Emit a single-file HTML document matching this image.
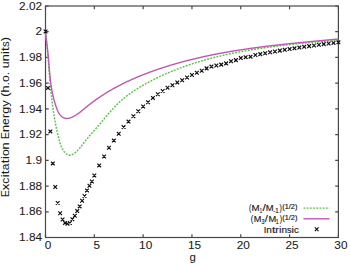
<!DOCTYPE html>
<html><head><meta charset="utf-8"><style>
html,body{margin:0;padding:0;background:#fff;overflow:hidden}
svg{display:block}
</style></head><body>
<svg width="350" height="265" viewBox="0 0 350 265">
<rect width="350" height="265" fill="#fff"/>
<g fill="none" stroke="#484848" stroke-width="1.2">
<rect x="45.5" y="6.0" width="292.90" height="231.50"/>
<path d="M45.50,237.5v-3.2M45.50,6.0v3.2M94.32,237.5v-3.2M94.32,6.0v3.2M143.13,237.5v-3.2M143.13,6.0v3.2M191.95,237.5v-3.2M191.95,6.0v3.2M240.77,237.5v-3.2M240.77,6.0v3.2M289.58,237.5v-3.2M289.58,6.0v3.2M338.40,237.5v-3.2M338.40,6.0v3.2M45.5,6.00h3.2M338.4,6.00h-3.2M45.5,31.72h3.2M338.4,31.72h-3.2M45.5,57.44h3.2M338.4,57.44h-3.2M45.5,83.17h3.2M338.4,83.17h-3.2M45.5,108.89h3.2M338.4,108.89h-3.2M45.5,134.61h3.2M338.4,134.61h-3.2M45.5,160.33h3.2M338.4,160.33h-3.2M45.5,186.06h3.2M338.4,186.06h-3.2M45.5,211.78h3.2M338.4,211.78h-3.2M45.5,237.50h3.2M338.4,237.50h-3.2"/>
</g>
<path d="M45.50,31.50 L45.57,32.11 L45.64,32.73 L45.71,33.34 L45.77,33.95 L45.84,34.57 L45.91,35.18 L45.97,35.79 L46.04,36.41 L46.10,37.02 L46.16,37.64 L46.23,38.25 L46.29,38.87 L46.35,39.48 L46.41,40.10 L46.47,40.72 L46.53,41.33 L46.59,41.95 L46.65,42.57 L46.71,43.18 L46.77,43.80 L46.83,44.42 L46.89,45.03 L46.95,45.65 L47.00,46.27 L47.06,46.89 L47.12,47.51 L47.17,48.12 L47.23,48.74 L47.28,49.36 L47.34,49.98 L47.39,50.60 L47.45,51.22 L47.50,51.84 L47.55,52.46 L47.61,53.07 L47.66,53.69 L47.71,54.31 L47.77,54.93 L47.82,55.55 L47.87,56.17 L47.92,56.79 L47.98,57.41 L48.03,58.03 L48.08,58.65 L48.13,59.27 L48.18,59.89 L48.23,60.51 L48.29,61.13 L48.34,61.75 L48.39,62.37 L48.44,63.00 L48.49,63.62 L48.54,64.24 L48.59,64.86 L48.64,65.48 L48.70,66.10 L48.75,66.72 L48.80,67.34 L48.85,67.96 L48.90,68.58 L48.95,69.20 L49.00,69.82 L49.06,70.45 L49.11,71.07 L49.16,71.69 L49.21,72.31 L49.27,72.93 L49.32,73.55 L49.37,74.17 L49.42,74.79 L49.48,75.41 L49.53,76.03 L49.59,76.65 L49.64,77.27 L49.69,77.89 L49.75,78.51 L49.80,79.13 L49.86,79.75 L49.91,80.37 L49.97,81.00 L50.03,81.62 L50.08,82.24 L50.14,82.85 L50.20,83.47 L50.26,84.09 L50.31,84.71 L50.37,85.33 L50.43,85.95 L50.49,86.57 L50.55,87.19 L50.61,87.81 L50.67,88.43 L50.73,89.05 L50.80,89.67 L50.86,90.28 L50.92,90.90 L50.99,91.52 L51.05,92.14 L51.12,92.76 L51.18,93.37 L51.25,93.99 L51.32,94.61 L51.38,95.23 L51.45,95.84 L51.52,96.46 L51.59,97.08 L51.66,97.69 L51.73,98.31 L51.80,98.93 L51.87,99.54 L51.95,100.16 L52.02,100.77 L52.10,101.39 L52.17,102.00 L52.25,102.62 L52.33,103.23 L52.40,103.85 L52.48,104.46 L52.56,105.07 L52.64,105.69 L52.72,106.30 L52.81,106.91 L52.89,107.53 L52.97,108.14 L53.06,108.75 L53.15,109.36 L53.23,109.97 L53.32,110.58 L53.41,111.20 L53.50,111.81 L53.59,112.42 L53.68,113.03 L53.78,113.64 L53.87,114.25 L53.97,114.86 L54.06,115.46 L54.16,116.07 L54.26,116.68 L54.36,117.29 L54.46,117.90 L54.56,118.50 L54.66,119.11 L54.77,119.72 L54.87,120.32 L54.98,120.93 L55.09,121.53 L55.20,122.14 L55.31,122.74 L55.42,123.35 L55.54,123.95 L55.65,124.56 L55.77,125.16 L55.89,125.77 L56.01,126.37 L56.13,126.98 L56.25,127.58 L56.37,128.19 L56.50,128.79 L56.63,129.39 L56.76,130.00 L56.89,130.60 L57.02,131.21 L57.16,131.81 L57.29,132.42 L57.43,133.02 L57.57,133.63 L57.72,134.23 L57.86,134.84 L58.01,135.44 L58.16,136.05 L58.31,136.65 L58.46,137.26 L58.62,137.86 L58.77,138.47 L58.93,139.08 L59.09,139.68 L59.26,140.29 L59.42,140.90 L59.59,141.51 L59.76,142.11 L59.94,142.72 L60.12,143.32 L60.31,143.93 L60.51,144.52 L60.71,145.12 L60.93,145.71 L61.15,146.29 L61.39,146.87 L61.64,147.44 L61.90,148.00 L62.18,148.56 L62.47,149.11 L62.78,149.64 L63.11,150.17 L63.45,150.68 L63.81,151.19 L64.20,151.68 L64.60,152.16 L65.03,152.62 L65.48,153.07 L65.95,153.50 L66.44,153.89 L66.95,154.25 L67.47,154.56 L68.01,154.82 L68.56,155.02 L69.11,155.16 L69.68,155.21 L70.25,155.19 L70.82,155.07 L71.40,154.89 L71.97,154.64 L72.53,154.35 L73.08,154.02 L73.62,153.68 L74.15,153.32 L74.66,152.95 L75.16,152.57 L75.65,152.17 L76.13,151.77 L76.59,151.35 L77.05,150.93 L77.50,150.49 L77.94,150.05 L78.37,149.59 L78.79,149.13 L79.20,148.67 L79.61,148.19 L80.02,147.71 L80.41,147.23 L80.81,146.74 L81.20,146.25 L81.58,145.76 L81.97,145.26 L82.35,144.76 L82.73,144.26 L83.11,143.77 L83.49,143.27 L83.87,142.77 L84.25,142.27 L84.63,141.78 L85.01,141.29 L85.40,140.80 L85.79,140.31 L86.18,139.83 L86.57,139.35 L86.96,138.87 L87.35,138.39 L87.75,137.92 L88.15,137.44 L88.54,136.97 L88.94,136.50 L89.34,136.03 L89.74,135.56 L90.15,135.10 L90.55,134.63 L90.95,134.17 L91.36,133.70 L91.76,133.24 L92.17,132.78 L92.57,132.31 L92.98,131.85 L93.38,131.39 L93.79,130.93 L94.19,130.47 L94.60,130.01 L95.01,129.54 L95.41,129.08 L95.82,128.62 L96.22,128.16 L96.63,127.69 L97.03,127.23 L97.44,126.76 L97.84,126.30 L98.24,125.83 L98.64,125.36 L99.04,124.89 L99.45,124.42 L99.85,123.95 L100.25,123.48 L100.64,123.00 L101.04,122.53 L101.44,122.05 L101.84,121.58 L102.24,121.11 L102.64,120.63 L103.04,120.16 L103.44,119.68 L103.84,119.21 L104.24,118.73 L104.64,118.26 L105.04,117.78 L105.44,117.31 L105.84,116.83 L106.24,116.36 L106.64,115.88 L107.04,115.41 L107.45,114.94 L107.85,114.47 L108.26,114.00 L108.66,113.53 L109.07,113.06 L109.48,112.59 L109.89,112.12 L110.30,111.66 L110.71,111.19 L111.12,110.73 L111.54,110.27 L111.96,109.81 L112.37,109.35 L112.79,108.89 L113.21,108.44 L113.64,107.99 L114.06,107.53 L114.49,107.08 L114.92,106.64 L115.35,106.19 L115.78,105.75 L116.21,105.31 L116.65,104.87 L117.09,104.43 L117.53,104.00 L117.97,103.57 L118.42,103.14 L118.87,102.71 L119.32,102.29 L119.77,101.87 L120.23,101.45 L120.69,101.04 L121.15,100.63 L121.61,100.22 L122.08,99.81 L122.55,99.41 L123.02,99.01 L123.49,98.61 L123.97,98.22 L124.45,97.82 L124.93,97.43 L125.41,97.05 L125.90,96.66 L126.38,96.28 L126.87,95.90 L127.36,95.53 L127.86,95.15 L128.36,94.78 L128.85,94.41 L129.35,94.05 L129.86,93.68 L130.36,93.32 L130.87,92.96 L131.37,92.60 L131.88,92.25 L132.39,91.90 L132.91,91.55 L133.42,91.20 L133.94,90.85 L134.46,90.51 L134.98,90.17 L135.50,89.83 L136.02,89.49 L136.54,89.16 L137.07,88.83 L137.60,88.50 L138.13,88.17 L138.66,87.84 L139.19,87.52 L139.72,87.19 L140.25,86.87 L140.79,86.56 L141.32,86.24 L141.86,85.92 L142.40,85.61 L142.94,85.30 L143.48,84.99 L144.02,84.68 L144.56,84.38 L145.11,84.07 L145.65,83.77 L146.19,83.47 L146.74,83.17 L147.29,82.87 L147.83,82.58 L148.38,82.28 L148.93,81.99 L149.48,81.70 L150.03,81.41 L150.58,81.12 L151.13,80.83 L151.68,80.55 L152.24,80.26 L152.79,79.98 L153.34,79.70 L153.90,79.42 L154.45,79.14 L155.01,78.86 L155.56,78.59 L156.12,78.32 L156.68,78.04 L157.23,77.77 L157.79,77.50 L158.35,77.24 L158.91,76.97 L159.47,76.70 L160.03,76.44 L160.59,76.18 L161.15,75.92 L161.72,75.66 L162.28,75.40 L162.84,75.14 L163.41,74.89 L163.97,74.63 L164.54,74.38 L165.10,74.13 L165.67,73.88 L166.23,73.63 L166.80,73.38 L167.37,73.14 L167.94,72.89 L168.51,72.65 L169.08,72.41 L169.65,72.17 L170.22,71.93 L170.79,71.69 L171.36,71.46 L171.93,71.22 L172.50,70.99 L173.08,70.76 L173.65,70.53 L174.22,70.30 L174.80,70.07 L175.37,69.84 L175.95,69.61 L176.52,69.39 L177.10,69.17 L177.68,68.94 L178.26,68.72 L178.83,68.50 L179.41,68.29 L179.99,68.07 L180.57,67.85 L181.15,67.64 L181.73,67.43 L182.31,67.21 L182.89,67.00 L183.47,66.79 L184.06,66.58 L184.64,66.38 L185.22,66.17 L185.81,65.97 L186.39,65.76 L186.97,65.56 L187.56,65.36 L188.14,65.16 L188.73,64.96 L189.32,64.76 L189.90,64.57 L190.49,64.37 L191.08,64.18 L191.66,63.98 L192.25,63.79 L192.84,63.60 L193.43,63.41 L194.02,63.22 L194.61,63.04 L195.20,62.85 L195.79,62.67 L196.38,62.48 L196.97,62.30 L197.56,62.12 L198.16,61.94 L198.75,61.76 L199.34,61.58 L199.94,61.40 L200.53,61.23 L201.12,61.05 L201.72,60.88 L202.31,60.70 L202.91,60.53 L203.50,60.36 L204.10,60.19 L204.70,60.02 L205.29,59.86 L205.89,59.69 L206.49,59.52 L207.08,59.36 L207.68,59.20 L208.28,59.03 L208.88,58.87 L209.48,58.71 L210.08,58.55 L210.68,58.39 L211.28,58.24 L211.88,58.08 L212.48,57.92 L213.08,57.77 L213.68,57.62 L214.28,57.46 L214.88,57.31 L215.49,57.16 L216.09,57.01 L216.69,56.86 L217.30,56.72 L217.90,56.57 L218.50,56.42 L219.11,56.28 L219.71,56.13 L220.32,55.99 L220.92,55.85 L221.53,55.71 L222.13,55.57 L222.74,55.43 L223.34,55.29 L223.95,55.15 L224.56,55.02 L225.16,54.88 L225.77,54.74 L226.38,54.61 L226.99,54.48 L227.59,54.35 L228.20,54.21 L228.81,54.08 L229.42,53.95 L230.03,53.82 L230.64,53.70 L231.25,53.57 L231.86,53.44 L232.47,53.32 L233.08,53.19 L233.69,53.07 L234.30,52.95 L234.91,52.82 L235.52,52.70 L236.13,52.58 L236.74,52.46 L237.35,52.34 L237.96,52.23 L238.58,52.11 L239.19,51.99 L239.80,51.88 L240.41,51.76 L241.02,51.65 L241.64,51.53 L242.25,51.42 L242.86,51.31 L243.48,51.20 L244.09,51.09 L244.71,50.98 L245.32,50.87 L245.93,50.76 L246.55,50.65 L247.16,50.54 L247.78,50.44 L248.39,50.33 L249.01,50.23 L249.62,50.12 L250.24,50.02 L250.85,49.92 L251.47,49.82 L252.08,49.71 L252.70,49.61 L253.32,49.51 L253.93,49.41 L254.55,49.32 L255.16,49.22 L255.78,49.12 L256.40,49.02 L257.01,48.93 L257.63,48.83 L258.25,48.74 L258.87,48.64 L259.48,48.55 L260.10,48.46 L260.72,48.36 L261.34,48.27 L261.95,48.18 L262.57,48.09 L263.19,48.00 L263.81,47.91 L264.42,47.82 L265.04,47.73 L265.66,47.65 L266.28,47.56 L266.90,47.47 L267.52,47.39 L268.13,47.30 L268.75,47.22 L269.37,47.13 L269.99,47.05 L270.61,46.97 L271.23,46.88 L271.85,46.80 L272.46,46.72 L273.08,46.64 L273.70,46.56 L274.32,46.48 L274.94,46.40 L275.56,46.32 L276.18,46.24 L276.80,46.16 L277.42,46.08 L278.04,46.01 L278.66,45.93 L279.27,45.85 L279.89,45.78 L280.51,45.70 L281.13,45.63 L281.75,45.55 L282.37,45.48 L282.99,45.41 L283.61,45.33 L284.23,45.26 L284.85,45.19 L285.47,45.12 L286.09,45.05 L286.71,44.97 L287.33,44.90 L287.94,44.83 L288.56,44.76 L289.18,44.70 L289.80,44.63 L290.42,44.56 L291.04,44.49 L291.66,44.42 L292.28,44.35 L292.90,44.29 L293.52,44.22 L294.14,44.15 L294.75,44.09 L295.37,44.02 L295.99,43.96 L296.61,43.89 L297.23,43.83 L297.85,43.76 L298.47,43.70 L299.08,43.64 L299.70,43.57 L300.32,43.51 L300.94,43.45 L301.56,43.38 L302.18,43.32 L302.79,43.26 L303.41,43.20 L304.03,43.14 L304.65,43.08 L305.26,43.01 L305.88,42.95 L306.50,42.89 L307.12,42.83 L307.73,42.77 L308.35,42.71 L308.97,42.66 L309.59,42.60 L310.20,42.54 L310.82,42.48 L311.43,42.42 L312.05,42.36 L312.67,42.30 L313.28,42.25 L313.90,42.19 L314.52,42.13 L315.13,42.07 L315.75,42.02 L316.36,41.96 L316.98,41.90 L317.59,41.85 L318.21,41.79 L318.82,41.74 L319.44,41.68 L320.05,41.62 L320.67,41.57 L321.28,41.51 L321.89,41.46 L322.51,41.40 L323.12,41.35 L323.73,41.29 L324.35,41.24 L324.96,41.18 L325.57,41.13 L326.19,41.07 L326.80,41.02 L327.41,40.96 L328.02,40.91 L328.64,40.86 L329.25,40.80 L329.86,40.75 L330.47,40.69 L331.08,40.64 L331.69,40.59 L332.30,40.53 L332.91,40.48 L333.52,40.43 L334.13,40.37 L334.74,40.32 L335.35,40.26 L335.96,40.21 L336.57,40.16 L337.18,40.10 L337.79,40.05 L338.40,40.00" fill="none" stroke="#5cc04c" stroke-width="1.45" stroke-dasharray="1.9 1.3"/>
<path d="M45.50,31.50 L45.53,32.01 L45.57,32.53 L45.61,33.05 L45.66,33.57 L45.70,34.10 L45.75,34.63 L45.80,35.16 L45.86,35.69 L45.91,36.23 L45.97,36.77 L46.03,37.31 L46.09,37.86 L46.15,38.40 L46.22,38.95 L46.28,39.50 L46.35,40.05 L46.42,40.61 L46.49,41.16 L46.56,41.71 L46.63,42.27 L46.70,42.83 L46.77,43.39 L46.84,43.95 L46.91,44.51 L46.99,45.06 L47.06,45.62 L47.13,46.18 L47.20,46.74 L47.27,47.30 L47.34,47.86 L47.41,48.42 L47.48,48.98 L47.54,49.54 L47.61,50.09 L47.67,50.65 L47.73,51.20 L47.79,51.76 L47.85,52.31 L47.91,52.86 L47.97,53.41 L48.03,53.96 L48.08,54.51 L48.13,55.06 L48.19,55.60 L48.24,56.15 L48.29,56.70 L48.34,57.24 L48.39,57.78 L48.44,58.33 L48.49,58.87 L48.53,59.41 L48.58,59.95 L48.62,60.49 L48.67,61.03 L48.72,61.56 L48.76,62.10 L48.80,62.64 L48.85,63.17 L48.89,63.71 L48.93,64.24 L48.98,64.78 L49.02,65.31 L49.06,65.84 L49.11,66.38 L49.15,66.91 L49.19,67.44 L49.24,67.97 L49.28,68.50 L49.32,69.03 L49.37,69.56 L49.41,70.09 L49.46,70.62 L49.50,71.15 L49.55,71.68 L49.59,72.21 L49.64,72.73 L49.69,73.26 L49.74,73.79 L49.78,74.31 L49.83,74.84 L49.88,75.37 L49.94,75.89 L49.99,76.42 L50.04,76.94 L50.10,77.47 L50.15,78.00 L50.21,78.52 L50.26,79.05 L50.32,79.57 L50.38,80.10 L50.45,80.62 L50.51,81.15 L50.57,81.67 L50.64,82.20 L50.71,82.72 L50.77,83.25 L50.84,83.77 L50.92,84.30 L50.99,84.82 L51.07,85.35 L51.14,85.88 L51.22,86.40 L51.31,86.93 L51.39,87.45 L51.47,87.98 L51.56,88.51 L51.65,89.04 L51.74,89.56 L51.84,90.09 L51.93,90.62 L52.03,91.15 L52.13,91.68 L52.24,92.20 L52.34,92.73 L52.45,93.26 L52.56,93.79 L52.68,94.33 L52.79,94.86 L52.91,95.39 L53.03,95.92 L53.16,96.45 L53.28,96.99 L53.41,97.52 L53.55,98.06 L53.68,98.59 L53.82,99.13 L53.97,99.66 L54.11,100.20 L54.26,100.74 L54.41,101.28 L54.57,101.81 L54.73,102.35 L54.89,102.90 L55.06,103.44 L55.23,103.98 L55.40,104.52 L55.58,105.07 L55.76,105.61 L55.94,106.16 L56.13,106.70 L56.32,107.25 L56.52,107.80 L56.72,108.34 L56.92,108.89 L57.14,109.43 L57.35,109.97 L57.58,110.51 L57.82,111.04 L58.06,111.56 L58.31,112.07 L58.58,112.57 L58.86,113.06 L59.15,113.54 L59.45,114.00 L59.77,114.45 L60.10,114.88 L60.44,115.29 L60.81,115.69 L61.19,116.06 L61.59,116.42 L62.00,116.75 L62.43,117.05 L62.88,117.33 L63.34,117.59 L63.82,117.81 L64.30,118.00 L64.79,118.16 L65.29,118.29 L65.80,118.38 L66.31,118.44 L66.83,118.46 L67.35,118.45 L67.87,118.41 L68.40,118.34 L68.92,118.24 L69.45,118.11 L69.98,117.96 L70.50,117.80 L71.03,117.61 L71.55,117.40 L72.07,117.18 L72.58,116.94 L73.09,116.69 L73.59,116.43 L74.09,116.16 L74.58,115.88 L75.07,115.60 L75.55,115.31 L76.02,115.02 L76.49,114.72 L76.95,114.41 L77.40,114.10 L77.86,113.79 L78.30,113.47 L78.74,113.15 L79.18,112.82 L79.62,112.50 L80.05,112.16 L80.48,111.83 L80.90,111.49 L81.33,111.15 L81.75,110.81 L82.17,110.47 L82.59,110.12 L83.01,109.78 L83.42,109.43 L83.84,109.09 L84.26,108.74 L84.67,108.40 L85.09,108.05 L85.51,107.70 L85.93,107.36 L86.35,107.02 L86.77,106.68 L87.19,106.34 L87.62,106.00 L88.04,105.66 L88.47,105.32 L88.89,104.98 L89.32,104.65 L89.75,104.31 L90.18,103.98 L90.61,103.65 L91.05,103.32 L91.48,102.99 L91.91,102.66 L92.35,102.33 L92.79,102.01 L93.22,101.68 L93.66,101.36 L94.10,101.04 L94.54,100.72 L94.99,100.40 L95.43,100.08 L95.87,99.76 L96.32,99.44 L96.76,99.13 L97.21,98.82 L97.66,98.50 L98.10,98.19 L98.55,97.88 L99.00,97.57 L99.46,97.27 L99.91,96.96 L100.36,96.66 L100.81,96.35 L101.27,96.05 L101.72,95.75 L102.18,95.45 L102.64,95.15 L103.10,94.86 L103.55,94.56 L104.01,94.27 L104.47,93.98 L104.94,93.69 L105.40,93.40 L105.86,93.11 L106.32,92.82 L106.79,92.54 L107.25,92.25 L107.72,91.97 L108.19,91.69 L108.65,91.41 L109.12,91.13 L109.59,90.85 L110.06,90.58 L110.53,90.30 L111.00,90.03 L111.48,89.76 L111.95,89.48 L112.42,89.22 L112.90,88.95 L113.37,88.68 L113.85,88.41 L114.32,88.15 L114.80,87.89 L115.28,87.63 L115.75,87.37 L116.23,87.11 L116.71,86.85 L117.19,86.59 L117.67,86.34 L118.16,86.08 L118.64,85.83 L119.12,85.58 L119.60,85.33 L120.09,85.08 L120.57,84.83 L121.06,84.58 L121.54,84.34 L122.03,84.09 L122.52,83.85 L123.00,83.61 L123.49,83.36 L123.98,83.12 L124.47,82.89 L124.96,82.65 L125.45,82.41 L125.94,82.18 L126.43,81.94 L126.93,81.71 L127.42,81.48 L127.91,81.25 L128.40,81.02 L128.90,80.79 L129.39,80.56 L129.89,80.33 L130.38,80.11 L130.88,79.88 L131.38,79.66 L131.87,79.44 L132.37,79.22 L132.87,79.00 L133.37,78.78 L133.87,78.56 L134.37,78.34 L134.87,78.12 L135.37,77.91 L135.87,77.70 L136.37,77.48 L136.87,77.27 L137.37,77.06 L137.88,76.85 L138.38,76.64 L138.88,76.43 L139.39,76.22 L139.89,76.02 L140.40,75.81 L140.90,75.61 L141.41,75.41 L141.91,75.20 L142.42,75.00 L142.93,74.80 L143.43,74.60 L143.94,74.40 L144.45,74.20 L144.95,74.01 L145.46,73.81 L145.97,73.62 L146.48,73.42 L146.99,73.23 L147.50,73.04 L148.01,72.84 L148.52,72.65 L149.03,72.46 L149.54,72.27 L150.05,72.09 L150.56,71.90 L151.07,71.71 L151.59,71.53 L152.10,71.34 L152.61,71.16 L153.12,70.97 L153.64,70.79 L154.15,70.61 L154.66,70.43 L155.18,70.25 L155.69,70.07 L156.20,69.89 L156.72,69.71 L157.23,69.54 L157.75,69.36 L158.26,69.18 L158.78,69.01 L159.29,68.84 L159.81,68.66 L160.32,68.49 L160.84,68.32 L161.36,68.15 L161.87,67.98 L162.39,67.81 L162.91,67.64 L163.43,67.47 L163.94,67.31 L164.46,67.14 L164.98,66.97 L165.50,66.81 L166.02,66.65 L166.54,66.48 L167.05,66.32 L167.57,66.16 L168.09,66.00 L168.61,65.84 L169.13,65.68 L169.65,65.52 L170.17,65.36 L170.69,65.20 L171.21,65.05 L171.74,64.89 L172.26,64.73 L172.78,64.58 L173.30,64.43 L173.82,64.27 L174.34,64.12 L174.87,63.97 L175.39,63.82 L175.91,63.67 L176.43,63.52 L176.96,63.37 L177.48,63.22 L178.00,63.07 L178.53,62.93 L179.05,62.78 L179.58,62.63 L180.10,62.49 L180.62,62.35 L181.15,62.20 L181.67,62.06 L182.20,61.92 L182.72,61.78 L183.25,61.64 L183.77,61.50 L184.30,61.36 L184.83,61.22 L185.35,61.08 L185.88,60.94 L186.41,60.80 L186.93,60.67 L187.46,60.53 L187.99,60.40 L188.51,60.26 L189.04,60.13 L189.57,60.00 L190.10,59.86 L190.63,59.73 L191.15,59.60 L191.68,59.47 L192.21,59.34 L192.74,59.21 L193.27,59.08 L193.80,58.96 L194.33,58.83 L194.86,58.70 L195.39,58.58 L195.91,58.45 L196.44,58.32 L196.97,58.20 L197.51,58.08 L198.04,57.95 L198.57,57.83 L199.10,57.71 L199.63,57.59 L200.16,57.47 L200.69,57.35 L201.22,57.23 L201.75,57.11 L202.28,56.99 L202.82,56.87 L203.35,56.75 L203.88,56.64 L204.41,56.52 L204.95,56.41 L205.48,56.29 L206.01,56.18 L206.54,56.06 L207.08,55.95 L207.61,55.84 L208.14,55.72 L208.68,55.61 L209.21,55.50 L209.74,55.39 L210.28,55.28 L210.81,55.17 L211.35,55.06 L211.88,54.95 L212.41,54.84 L212.95,54.74 L213.48,54.63 L214.02,54.52 L214.55,54.42 L215.09,54.31 L215.62,54.21 L216.16,54.10 L216.69,54.00 L217.23,53.90 L217.77,53.79 L218.30,53.69 L218.84,53.59 L219.37,53.49 L219.91,53.39 L220.45,53.29 L220.98,53.19 L221.52,53.09 L222.06,52.99 L222.59,52.89 L223.13,52.79 L223.67,52.70 L224.20,52.60 L224.74,52.50 L225.28,52.41 L225.82,52.31 L226.35,52.22 L226.89,52.12 L227.43,52.03 L227.97,51.93 L228.50,51.84 L229.04,51.75 L229.58,51.66 L230.12,51.56 L230.66,51.47 L231.20,51.38 L231.73,51.29 L232.27,51.20 L232.81,51.11 L233.35,51.02 L233.89,50.93 L234.43,50.85 L234.97,50.76 L235.51,50.67 L236.05,50.58 L236.59,50.50 L237.13,50.41 L237.67,50.33 L238.21,50.24 L238.74,50.16 L239.28,50.07 L239.82,49.99 L240.36,49.90 L240.90,49.82 L241.44,49.74 L241.99,49.65 L242.53,49.57 L243.07,49.49 L243.61,49.41 L244.15,49.33 L244.69,49.25 L245.23,49.17 L245.77,49.09 L246.31,49.01 L246.85,48.93 L247.39,48.85 L247.93,48.77 L248.47,48.69 L249.01,48.62 L249.56,48.54 L250.10,48.46 L250.64,48.39 L251.18,48.31 L251.72,48.24 L252.26,48.16 L252.80,48.08 L253.35,48.01 L253.89,47.94 L254.43,47.86 L254.97,47.79 L255.51,47.71 L256.06,47.64 L256.60,47.57 L257.14,47.50 L257.68,47.42 L258.22,47.35 L258.77,47.28 L259.31,47.21 L259.85,47.14 L260.39,47.07 L260.93,47.00 L261.48,46.93 L262.02,46.86 L262.56,46.79 L263.10,46.72 L263.65,46.65 L264.19,46.59 L264.73,46.52 L265.27,46.45 L265.82,46.38 L266.36,46.32 L266.90,46.25 L267.45,46.18 L267.99,46.12 L268.53,46.05 L269.07,45.98 L269.62,45.92 L270.16,45.85 L270.70,45.79 L271.25,45.72 L271.79,45.66 L272.33,45.60 L272.87,45.53 L273.42,45.47 L273.96,45.41 L274.50,45.34 L275.05,45.28 L275.59,45.22 L276.13,45.15 L276.68,45.09 L277.22,45.03 L277.76,44.97 L278.30,44.91 L278.85,44.85 L279.39,44.79 L279.93,44.73 L280.48,44.66 L281.02,44.60 L281.56,44.54 L282.11,44.49 L282.65,44.43 L283.19,44.37 L283.74,44.31 L284.28,44.25 L284.82,44.19 L285.37,44.13 L285.91,44.07 L286.45,44.01 L286.99,43.96 L287.54,43.90 L288.08,43.84 L288.62,43.78 L289.17,43.73 L289.71,43.67 L290.25,43.61 L290.80,43.56 L291.34,43.50 L291.88,43.44 L292.42,43.39 L292.97,43.33 L293.51,43.28 L294.05,43.22 L294.60,43.17 L295.14,43.11 L295.68,43.05 L296.22,43.00 L296.77,42.95 L297.31,42.89 L297.85,42.84 L298.40,42.78 L298.94,42.73 L299.48,42.67 L300.02,42.62 L300.57,42.57 L301.11,42.51 L301.65,42.46 L302.19,42.41 L302.74,42.35 L303.28,42.30 L303.82,42.25 L304.36,42.19 L304.91,42.14 L305.45,42.09 L305.99,42.04 L306.53,41.98 L307.07,41.93 L307.62,41.88 L308.16,41.83 L308.70,41.77 L309.24,41.72 L309.78,41.67 L310.32,41.62 L310.87,41.57 L311.41,41.52 L311.95,41.46 L312.49,41.41 L313.03,41.36 L313.57,41.31 L314.12,41.26 L314.66,41.21 L315.20,41.16 L315.74,41.11 L316.28,41.05 L316.82,41.00 L317.36,40.95 L317.90,40.90 L318.44,40.85 L318.98,40.80 L319.53,40.75 L320.07,40.70 L320.61,40.65 L321.15,40.60 L321.69,40.55 L322.23,40.50 L322.77,40.45 L323.31,40.40 L323.85,40.35 L324.39,40.30 L324.93,40.25 L325.47,40.20 L326.01,40.15 L326.55,40.10 L327.09,40.05 L327.63,40.00 L328.17,39.95 L328.71,39.90 L329.24,39.85 L329.78,39.80 L330.32,39.75 L330.86,39.70 L331.40,39.65 L331.94,39.60 L332.48,39.55 L333.02,39.50 L333.56,39.45 L334.09,39.40 L334.63,39.35 L335.17,39.30 L335.71,39.25 L336.25,39.20 L336.78,39.15 L337.32,39.10 L337.86,39.05 L338.40,38.99" fill="none" stroke="#c056b4" stroke-width="1.4"/>
<path d="M43.65,29.65L47.35,33.35M43.65,33.35L47.35,29.65M46.09,86.05L49.79,89.75M46.09,89.75L49.79,86.05M48.53,129.55L52.23,133.25M48.53,133.25L52.23,129.55M50.97,161.55L54.67,165.25M50.97,165.25L54.67,161.55M53.41,185.15L57.11,188.85M53.41,188.85L57.11,185.15M55.85,201.15L59.55,204.85M55.85,204.85L59.55,201.15M58.29,211.35L61.99,215.05M58.29,215.05L61.99,211.35M60.74,217.65L64.44,221.35M60.74,221.35L64.44,217.65M63.18,221.05L66.88,224.75M63.18,224.75L66.88,221.05M65.62,221.95L69.32,225.65M65.62,225.65L69.32,221.95M68.06,221.15L71.76,224.85M68.06,224.85L71.76,221.15M70.50,217.35L74.20,221.05M70.50,221.05L74.20,217.35M72.94,213.95L76.64,217.65M72.94,217.65L76.64,213.95M75.38,209.25L79.08,212.95M75.38,212.95L79.08,209.25M77.82,204.55L81.52,208.25M77.82,208.25L81.52,204.55M80.26,198.95L83.96,202.65M80.26,202.65L83.96,198.95M82.70,194.15L86.40,197.85M82.70,197.85L86.40,194.15M85.14,188.55L88.84,192.25M85.14,192.25L88.84,188.55M87.59,183.85L91.28,187.55M87.59,187.55L91.28,183.85M90.03,179.65L93.73,183.35M90.03,183.35L93.73,179.65M92.47,173.65L96.17,177.35M92.47,177.35L96.17,173.65M97.35,163.55L101.05,167.25M97.35,167.25L101.05,163.55M102.23,154.65L105.93,158.35M102.23,158.35L105.93,154.65M107.11,145.85L110.81,149.55M107.11,149.55L110.81,145.85M111.99,138.75L115.69,142.45M111.99,142.45L115.69,138.75M116.88,131.85L120.57,135.55M116.88,135.55L120.57,131.85M121.76,125.25L125.46,128.95M121.76,128.95L125.46,125.25M126.64,119.75L130.34,123.45M126.64,123.45L130.34,119.75M131.52,114.35L135.22,118.05M131.52,118.05L135.22,114.35M136.40,109.35L140.10,113.05M136.40,113.05L140.10,109.35M141.28,104.65L144.98,108.35M141.28,108.35L144.98,104.65M146.16,100.35L149.86,104.05M146.16,104.05L149.86,100.35M151.05,96.05L154.75,99.75M151.05,99.75L154.75,96.05M155.93,92.35L159.63,96.05M155.93,96.05L159.63,92.35M160.81,89.15L164.51,92.85M160.81,92.85L164.51,89.15M165.69,85.95L169.39,89.65M165.69,89.65L169.39,85.95M170.57,83.45L174.27,87.15M170.57,87.15L174.27,83.45M175.45,80.55L179.15,84.25M175.45,84.25L179.15,80.55M180.34,78.45L184.04,82.15M180.34,82.15L184.04,78.45M185.22,75.65L188.92,79.35M185.22,79.35L188.92,75.65M190.10,73.15L193.80,76.85M190.10,76.85L193.80,73.15M194.98,70.85L198.68,74.55M194.98,74.55L198.68,70.85M199.86,68.85L203.56,72.55M199.86,72.55L203.56,68.85M204.74,66.52L208.44,70.22M204.74,70.22L208.44,66.52M209.63,64.73L213.33,68.43M209.63,68.43L213.33,64.73M214.51,63.67L218.21,67.37M214.51,67.37L218.21,63.67M219.39,62.77L223.09,66.47M219.39,66.47L223.09,62.77M224.27,61.54L227.97,65.24M224.27,65.24L227.97,61.54M229.15,59.34L232.85,63.04M229.15,63.04L232.85,59.34M234.03,58.29L237.73,61.99M234.03,61.99L237.73,58.29M238.92,56.21L242.62,59.91M238.92,59.91L242.62,56.21M243.80,55.31L247.50,59.01M243.80,59.01L247.50,55.31M248.68,54.82L252.38,58.52M248.68,58.52L252.38,54.82M253.56,53.18L257.26,56.88M253.56,56.88L257.26,53.18M258.44,52.27L262.14,55.97M258.44,55.97L262.14,52.27M263.32,51.39L267.02,55.09M263.32,55.09L267.02,51.39M268.21,50.49L271.91,54.19M268.21,54.19L271.91,50.49M273.09,49.61L276.79,53.31M273.09,53.31L276.79,49.61M277.97,48.78L281.67,52.48M277.97,52.48L281.67,48.78M282.85,48.00L286.55,51.70M282.85,51.70L286.55,48.00M287.73,47.23L291.43,50.93M287.73,50.93L291.43,47.23M292.62,46.47L296.32,50.17M292.62,50.17L296.32,46.47M297.50,45.72L301.20,49.42M297.50,49.42L301.20,45.72M302.38,45.00L306.08,48.70M302.38,48.70L306.08,45.00M307.26,44.29L310.96,47.99M307.26,47.99L310.96,44.29M312.14,43.60L315.84,47.30M312.14,47.30L315.84,43.60M317.02,42.93L320.72,46.63M317.02,46.63L320.72,42.93M321.90,42.28L325.61,45.98M321.90,45.98L325.61,42.28M326.79,41.66L330.49,45.36M326.79,45.36L330.49,41.66M331.67,41.07L335.37,44.77M331.67,44.77L335.37,41.07M336.55,40.50L340.25,44.20M336.55,44.20L340.25,40.50" fill="none" stroke="#111" stroke-width="1.2"/>
<g font-family="Liberation Sans" font-size="11.4" fill="#1a1a1a" stroke="#1a1a1a" stroke-width="0.07">
<text x="19.05" y="9.70" textLength="22.95" lengthAdjust="spacingAndGlyphs">2.02</text><text x="35.45" y="35.42" textLength="6.55" lengthAdjust="spacingAndGlyphs">2</text><text x="19.05" y="61.14" textLength="22.95" lengthAdjust="spacingAndGlyphs">1.98</text><text x="19.05" y="86.87" textLength="22.95" lengthAdjust="spacingAndGlyphs">1.96</text><text x="19.05" y="112.59" textLength="22.95" lengthAdjust="spacingAndGlyphs">1.94</text><text x="19.05" y="138.31" textLength="22.95" lengthAdjust="spacingAndGlyphs">1.92</text><text x="25.60" y="164.03" textLength="16.40" lengthAdjust="spacingAndGlyphs">1.9</text><text x="19.05" y="189.76" textLength="22.95" lengthAdjust="spacingAndGlyphs">1.88</text><text x="19.05" y="215.48" textLength="22.95" lengthAdjust="spacingAndGlyphs">1.86</text><text x="19.05" y="241.20" textLength="22.95" lengthAdjust="spacingAndGlyphs">1.84</text>
<text x="44.73" y="249.4" textLength="6.55" lengthAdjust="spacingAndGlyphs">0</text><text x="93.54" y="249.4" textLength="6.55" lengthAdjust="spacingAndGlyphs">5</text><text x="139.08" y="249.4" textLength="13.10" lengthAdjust="spacingAndGlyphs">10</text><text x="187.90" y="249.4" textLength="13.10" lengthAdjust="spacingAndGlyphs">15</text><text x="236.72" y="249.4" textLength="13.10" lengthAdjust="spacingAndGlyphs">20</text><text x="285.53" y="249.4" textLength="13.10" lengthAdjust="spacingAndGlyphs">25</text><text x="334.35" y="249.4" textLength="13.10" lengthAdjust="spacingAndGlyphs">30</text>
<text x="192.6" y="261.2" text-anchor="middle">g</text>
<g transform="translate(9.3,197.1) rotate(-90)" font-size="11.3" stroke-width="0.03"><text x="0.00" y="0.00" textLength="6.95" lengthAdjust="spacingAndGlyphs">E</text><text x="6.95" y="0.00" textLength="6.51" lengthAdjust="spacingAndGlyphs">x</text><text x="13.46" y="0.00" textLength="6.05" lengthAdjust="spacingAndGlyphs">c</text><text x="19.51" y="0.00" textLength="3.06" lengthAdjust="spacingAndGlyphs">i</text><text x="22.57" y="0.00" textLength="4.31" lengthAdjust="spacingAndGlyphs">t</text><text x="26.88" y="0.00" textLength="6.74" lengthAdjust="spacingAndGlyphs">a</text><text x="33.63" y="0.00" textLength="4.31" lengthAdjust="spacingAndGlyphs">t</text><text x="37.94" y="0.00" textLength="3.06" lengthAdjust="spacingAndGlyphs">i</text><text x="41.00" y="0.00" textLength="6.73" lengthAdjust="spacingAndGlyphs">o</text><text x="47.73" y="0.00" textLength="6.97" lengthAdjust="spacingAndGlyphs">n</text><text x="58.20" y="0.00" textLength="6.95" lengthAdjust="spacingAndGlyphs">E</text><text x="65.15" y="0.00" textLength="6.97" lengthAdjust="spacingAndGlyphs">n</text><text x="72.13" y="0.00" textLength="6.76" lengthAdjust="spacingAndGlyphs">e</text><text x="78.89" y="0.00" textLength="4.52" lengthAdjust="spacingAndGlyphs">r</text><text x="83.41" y="0.00" textLength="6.99" lengthAdjust="spacingAndGlyphs">g</text><text x="90.40" y="0.00" textLength="6.51" lengthAdjust="spacingAndGlyphs">y</text><text x="100.41" y="0.00" textLength="4.29" lengthAdjust="spacingAndGlyphs">(</text><text x="104.70" y="0.00" textLength="6.97" lengthAdjust="spacingAndGlyphs">h</text><text x="111.67" y="0.00" textLength="3.50" lengthAdjust="spacingAndGlyphs">.</text><text x="115.17" y="0.00" textLength="6.73" lengthAdjust="spacingAndGlyphs">o</text><text x="121.90" y="0.00" textLength="3.50" lengthAdjust="spacingAndGlyphs">.</text><text x="128.90" y="0.00" textLength="6.97" lengthAdjust="spacingAndGlyphs">u</text><text x="135.87" y="0.00" textLength="6.97" lengthAdjust="spacingAndGlyphs">n</text><text x="142.85" y="0.00" textLength="3.06" lengthAdjust="spacingAndGlyphs">i</text><text x="145.90" y="0.00" textLength="4.31" lengthAdjust="spacingAndGlyphs">t</text><text x="150.22" y="0.00" textLength="5.73" lengthAdjust="spacingAndGlyphs">s</text><text x="155.95" y="0.00" textLength="4.29" lengthAdjust="spacingAndGlyphs">)</text></g>
</g>
<g font-family="Liberation Sans" fill="#222" stroke="#222" stroke-width="0.15">
<text x="249.09" y="211.00" font-size="8.8" textLength="2.26" lengthAdjust="spacingAndGlyphs">(</text><text x="251.62" y="210.70" font-size="8.8" textLength="8.08" lengthAdjust="spacingAndGlyphs">M</text><text x="259.69" y="212.70" font-size="6.3" textLength="2.33" lengthAdjust="spacingAndGlyphs">1</text><text x="262.60" y="210.70" font-size="8.8" textLength="3.34" lengthAdjust="spacingAndGlyphs">/</text><text x="265.85" y="210.70" font-size="8.8" textLength="7.83" lengthAdjust="spacingAndGlyphs">M</text><text x="273.22" y="212.70" font-size="6.3" textLength="5.48" lengthAdjust="spacingAndGlyphs">-1</text><text x="279.53" y="211.00" font-size="8.8" textLength="2.31" lengthAdjust="spacingAndGlyphs">)</text><text x="282.36" y="209.30" font-size="6.3" textLength="14.98" lengthAdjust="spacingAndGlyphs">(1/2)</text><text x="250.65" y="221.80" font-size="8.8" textLength="2.51" lengthAdjust="spacingAndGlyphs">(</text><text x="253.87" y="221.50" font-size="8.8" textLength="7.58" lengthAdjust="spacingAndGlyphs">M</text><text x="261.59" y="223.50" font-size="6.3" textLength="2.96" lengthAdjust="spacingAndGlyphs">3</text><text x="264.80" y="221.50" font-size="8.8" textLength="3.13" lengthAdjust="spacingAndGlyphs">/</text><text x="268.46" y="221.50" font-size="8.8" textLength="7.71" lengthAdjust="spacingAndGlyphs">M</text><text x="275.82" y="223.50" font-size="6.3" textLength="2.84" lengthAdjust="spacingAndGlyphs">1</text><text x="279.63" y="221.80" font-size="8.8" textLength="2.31" lengthAdjust="spacingAndGlyphs">)</text><text x="282.36" y="220.10" font-size="6.3" textLength="14.98" lengthAdjust="spacingAndGlyphs">(1/2)</text><g font-size="9.0"><text x="263.74" y="232.60" textLength="2.60" lengthAdjust="spacingAndGlyphs">I</text><text x="266.33" y="232.60" textLength="5.58" lengthAdjust="spacingAndGlyphs">n</text><text x="271.91" y="232.60" textLength="3.45" lengthAdjust="spacingAndGlyphs">t</text><text x="275.36" y="232.60" textLength="3.62" lengthAdjust="spacingAndGlyphs">r</text><text x="278.98" y="232.60" textLength="2.45" lengthAdjust="spacingAndGlyphs">i</text><text x="281.43" y="232.60" textLength="5.58" lengthAdjust="spacingAndGlyphs">n</text><text x="287.00" y="232.60" textLength="4.58" lengthAdjust="spacingAndGlyphs">s</text><text x="291.59" y="232.60" textLength="2.45" lengthAdjust="spacingAndGlyphs">i</text><text x="294.04" y="232.60" textLength="4.84" lengthAdjust="spacingAndGlyphs">c</text></g>
</g>
<path d="M303.5,208.1H329.5" stroke="#5cc04c" stroke-width="1.45" stroke-dasharray="1.9 1.3"/>
<path d="M303.5,218.8H329.5" stroke="#c056b4" stroke-width="1.4"/>
<path d="M314.85,227.35L318.55,231.05M314.85,231.05L318.55,227.35" stroke="#111" stroke-width="1.2"/>
</svg>
</body></html>
